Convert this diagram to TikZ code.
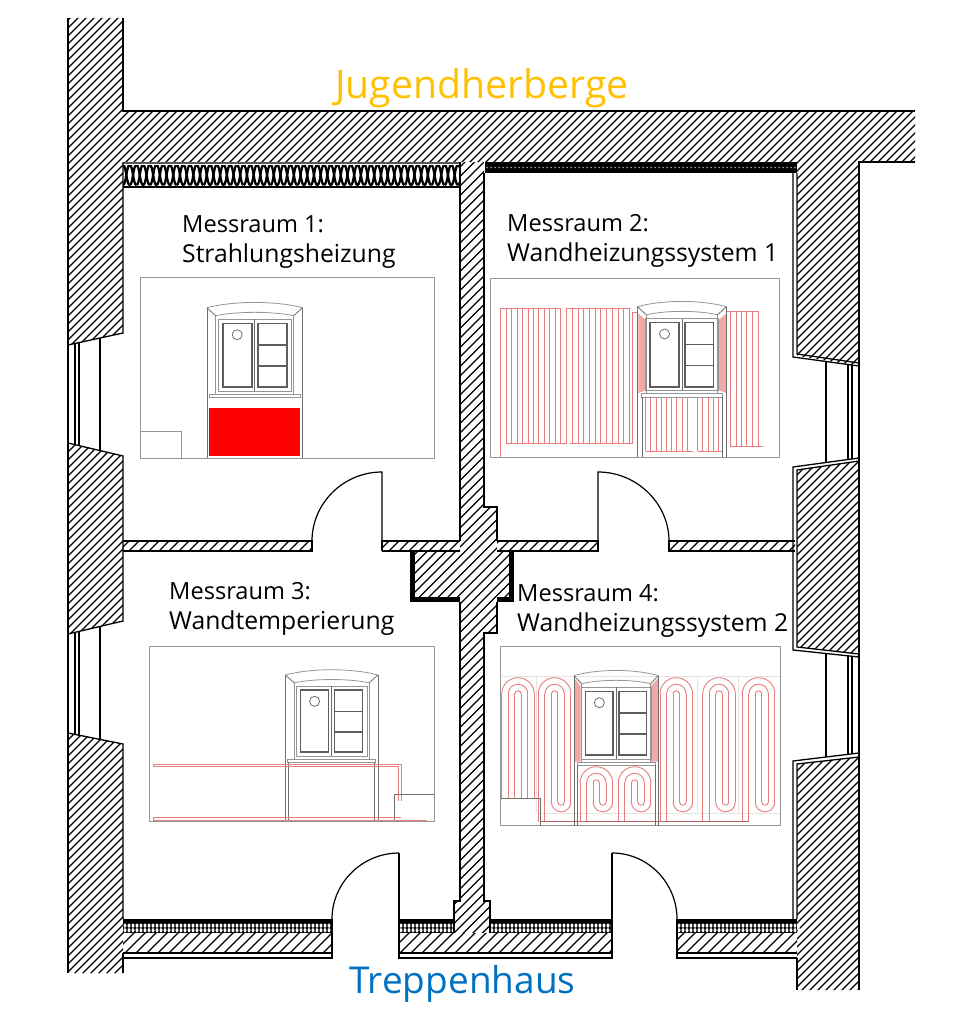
\documentclass[tikz,border=0pt]{standalone}
\usepackage{fontspec}
\setmainfont{Open Sans}
\definecolor{elgray}{HTML}{6E6E6E}
\definecolor{elthick}{HTML}{5E5E5E}
\definecolor{elbox}{HTML}{959595}
\definecolor{pipered}{HTML}{E87C7C}
\definecolor{revealred}{HTML}{F0A8A8}
\definecolor{gridgray}{HTML}{E4E4E4}
\definecolor{jhyellow}{HTML}{FFC000}
\definecolor{thblue}{HTML}{0070C0}
\tikzset{
  hatchline/.style={line width=1.3pt,black},
  wallline/.style={line width=1.3pt,black,line join=miter},
  thickblack/.style={line width=5pt,black,line join=miter},
  doorline/.style={line width=1.2pt,black},
  elline/.style={line width=0.8pt,elgray},
  elthin/.style={line width=0.8pt,elbox},
  elsash/.style={line width=1.7pt,elthick},
  panelbox/.style={line width=1pt,elbox},
  pipe/.style={line width=0.9pt,pipered},
  feedpipe/.style={line width=1.4pt,pipered!80!black},
  gridline/.style={line width=0.6pt,gridgray},
  roomlabel/.style={font=\fontsize{23.6}{30}\selectfont,text=black,inner sep=0pt,anchor=north west,align=left},
  neighbour/.style={inner sep=0pt,anchor=base west},
}
\newcommand{\lineB}[1]{{\fontsize{24.7}{30}\selectfont #1}}
\newcommand{\hatchpoly}[2]{%
  \begin{scope}
    \clip #2;
    \foreach \k in {0,...,260}{
      \pgfmathsetmacro{\cc}{\k*#1}
      \draw[hatchline] (\cc,0) -- (0,\cc);
    }
  \end{scope}}
\newcommand{\capU}[4]{%
  \draw[pipe] ({#1-#2},#3) .. controls ({#1-#2},{#3+#4*0.5523*#2}) and ({#1-0.5523*#2},{#3+#4*#2}) .. (#1,{#3+#4*#2}) .. controls ({#1+0.5523*#2},{#3+#4*#2}) and ({#1+#2},{#3+#4*0.5523*#2}) .. ({#1+#2},#3);}
\newcommand{\meanderTop}[2]{%
  \capU{#1+16.3}{16.3}{#2}{-1}\capU{#1+16.3}{9.8}{#2}{-1}\capU{#1+16.3}{3.25}{#2}{-1}}
\newcommand{\meander}[4]{%
  \meanderTop{#1}{#2}
  \capU{#1+22.8}{3.25}{#3}{1}\capU{#1+22.8}{9.8}{#3}{1}
  \draw[pipe] ({#1},#2) -- ({#1},#4);
  \draw[pipe] ({#1+6.5},#2) -- ({#1+6.5},#4);
  \draw[pipe] ({#1+13},#2) -- ({#1+13},#3);
  \draw[pipe] ({#1+19.55},#2) -- ({#1+19.55},#3);
  \draw[pipe] ({#1+26.1},#2) -- ({#1+26.1},#3);
  \draw[pipe] ({#1+32.6},#2) -- ({#1+32.6},#3);}
% window elevation: c, frame half, inner half, sash width, top, bottom, sill half, inner leg half, y factor
\newcommand{\elwin}[9]{%
  \pgfmathsetmacro{\wf}{3+#4+4.5}
  \draw[elthin] ({#1-#2},#5) .. controls ({#1-#2*0.45},{#5-7}) and ({#1+#2*0.45},{#5-7}) .. ({#1+#2},#5);
  \draw[elthin] ({#1-#3},{#5+8*#9}) .. controls ({#1-#3*0.45},{#5+3.5*#9}) and ({#1+#3*0.45},{#5+3.5*#9}) .. ({#1+#3},{#5+8*#9});
  \draw[elline] ({#1-#2},#5) -- ({#1-#3},{#5+8*#9});
  \draw[elline] ({#1+#2},#5) -- ({#1+#3},{#5+8*#9});
  \draw[elline] ({#1-#2},#5) -- ({#1-#2},#6);
  \draw[elline] ({#1+#2},#5) -- ({#1+#2},#6);
  \draw[elthin] ({#1-#3},{#5+8*#9}) -- ({#1-#3},{#5+86*#9});
  \draw[elthin] ({#1+#3},{#5+8*#9}) -- ({#1+#3},{#5+86*#9});
  \draw[elthin] ({#1-\wf},{#5+11.7*#9}) rectangle ({#1+\wf},{#5+83.3*#9});
  \draw[elline] (#1,{#5+11.7*#9}) -- (#1,{#5+83.3*#9});
  \draw[elsash] ({#1-3-#4},{#5+15.7*#9}) rectangle ({#1-3},{#5+79.3*#9});
  \draw[elsash] ({#1+3},{#5+15.7*#9}) rectangle ({#1+3+#4},{#5+79.3*#9});
  \draw[elsash] ({#1+3},{#5+37.3*#9}) -- ({#1+3+#4},{#5+37.3*#9});
  \draw[elsash] ({#1+3},{#5+58.3*#9}) -- ({#1+3+#4},{#5+58.3*#9});
  \draw[elline] ({#1-3-#4*0.5},{#5+27*#9}) circle[radius=5pt];
  \draw[elthin] ({#1-#7},{#5+86.3*#9}) rectangle ({#1+#7},{#5+89.5*#9});
  \draw[elline] ({#1-#8},{#5+89.5*#9}) -- ({#1-#8},#6);
  \draw[elline] ({#1+#8},{#5+89.5*#9}) -- ({#1+#8},#6);}
% insulation with crossing waves
\newcommand{\insulA}[4]{%
  \begin{scope}
    \clip (#1,#3) rectangle (#2,#4);
    \foreach \i in {0,...,26}{
      \pgfmathsetmacro{\xa}{#1+\i*13.4}
      \pgfmathsetmacro{\xb}{\xa+3.35}
      \pgfmathsetmacro{\xc}{\xa+6.7}
      \pgfmathsetmacro{\xd}{\xa+10.05}
      \pgfmathsetmacro{\xe}{\xa+13.4}
      \draw[line width=2.3pt,black] (\xa,#3) .. controls (\xb,#3) and (\xb,#4) .. (\xc,#4) .. controls (\xd,#4) and (\xd,#3) .. (\xe,#3);
      \draw[line width=2.3pt,black] (\xa,#4) .. controls (\xb,#4) and (\xb,#3) .. (\xc,#3) .. controls (\xd,#3) and (\xd,#4) .. (\xe,#4);
    }
  \end{scope}}
\newcommand{\insulB}[2]{%
  \fill[black] (#1,919) rectangle (#2,933);
  \pgfmathtruncatemacro{\nn}{(#2-#1)/4}
  \foreach \i in {0,...,\nn}{
    \pgfmathsetmacro{\xa}{#1+2+\i*4}
    \fill[white] (\xa,925.6) ellipse[x radius=1.5pt,y radius=2.1pt];
    \fill[white] (\xa,930.2) ellipse[x radius=1.5pt,y radius=2.1pt];
  }}
\begin{document}
\begin{tikzpicture}[x=1pt,y=-1pt]
\useasboundingbox (0,0) rectangle (960,1025);
\fill[white] (0,0) rectangle (960,1025);

% --- hatched masonry
\hatchpoly{8}{(68,18) -- (123,18) -- (123,111) -- (915,111) -- (915,162) -- (859,162) -- (859,366) -- (797,356) -- (797,162) -- (123,162) -- (123,333) -- (68,345) -- cycle}
\hatchpoly{8}{(68,443) -- (123,456) -- (123,621) -- (68,634) -- cycle}
\hatchpoly{8}{(68,733) -- (123,744) -- (123,973) -- (68,973) -- cycle}
\hatchpoly{8}{(797,470) -- (859,461) -- (859,654) -- (797,647) -- cycle}
\hatchpoly{8}{(797,764) -- (859,757) -- (859,990) -- (797,990) -- cycle}
\hatchpoly{9.5}{(460,162) -- (484,162) -- (484,507) -- (497,507) -- (497,551) -- (509,551) -- (509,597) -- (497,597) -- (497,633) -- (484,633) -- (484,901) -- (490,901) -- (490,933) -- (454,933) -- (454,901) -- (460,901) -- (460,597) -- (415,597) -- (415,551) -- (460,551) -- cycle}
\hatchpoly{10}{(123,541) rectangle (312,551)}
\hatchpoly{10}{(382,541) rectangle (460,551)}
\hatchpoly{10}{(497,541) rectangle (598,551)}
\hatchpoly{10}{(669,541) rectangle (795,551)}
\hatchpoly{11}{(123,933) rectangle (332,953)}
\hatchpoly{11}{(399,933) rectangle (612,953)}
\hatchpoly{11}{(677,933) rectangle (797,953)}

% --- insulation
\fill[white] (123,162) rectangle (460,187);
\insulA{123}{460}{165}{185}
\draw[line width=2pt,black!65] (123,162.5) -- (460,162.5);
\draw[line width=2.4pt,black] (123,187) -- (460,187);
\fill[black] (485,162) rectangle (797,173);
\foreach \i in {0,...,77}{
  \pgfmathsetmacro{\xa}{487+\i*4}
  \fill[black!45] (\xa,167.5) circle[radius=1pt];
}
\insulB{123}{332}
\insulB{399}{454}
\insulB{490}{612}
\insulB{677}{797}

% --- wall outlines
\draw[wallline] (68,18) -- (68,973);
\draw[wallline] (123,18) -- (123,111) -- (915,111);
\draw[wallline] (915,162) -- (859,162) -- (859,990);
\draw[wallline] (123,162) -- (123,333) -- (68,345);
\draw[wallline] (68,443) -- (123,456) -- (123,621) -- (68,634);
\draw[wallline] (68,733) -- (123,744) -- (123,919);
\draw[wallline] (123,953) -- (123,973);
\draw[wallline] (793,173) -- (793,357) -- (859,366);
\draw[wallline] (797,173) -- (797,354) -- (859,363);
\draw[wallline] (859,458) -- (793,467) -- (793,650) -- (859,657);
\draw[wallline] (859,461) -- (797,470) -- (797,647) -- (859,654);
\draw[wallline] (859,753) -- (793,761) -- (793,919);
\draw[wallline] (859,757) -- (797,764) -- (797,919);
\draw[wallline] (797,958) -- (797,990);
\draw[wallline] (484,173) -- (484,507) -- (497,507) -- (497,541);
\draw[wallline] (460,162) -- (460,541);
\draw[wallline] (460,602) -- (460,901) -- (454,901) -- (454,933);
\draw[wallline] (497,602) -- (497,633) -- (484,633) -- (484,901) -- (490,901) -- (490,933);
\draw[wallline] (123,541) -- (312,541) -- (312,551) -- (123,551);
\draw[wallline] (382,551) -- (382,541) -- (460,541);
\draw[wallline] (382,551) -- (460,551);
\draw[wallline] (497,541) -- (598,541) -- (598,551) -- (497,551);
\draw[wallline] (795,541) -- (669,541) -- (669,551) -- (795,551);
\draw[thickblack] (412.5,551) -- (412.5,599.5) -- (460,599.5);
\draw[thickblack] (497,599.5) -- (511.5,599.5) -- (511.5,551);
% bottom wall
\draw[wallline] (332,919) -- (332,958) -- (123,958);
\draw[wallline] (123,953) -- (332,953);
\draw[wallline] (399,853) -- (399,958) -- (612,958) -- (612,853);
\draw[wallline] (399,953) -- (612,953);
\draw[wallline] (677,919) -- (677,958) -- (797,958);
\draw[wallline] (677,953) -- (797,953);

% --- windows in plan
\draw[wallline] (75,343) -- (75,445) (79,343) -- (79,446) (100,338) -- (100,450);
\draw[wallline] (75,632) -- (75,735) (79,631) -- (79,736) (100,627) -- (100,739);
\draw[wallline] (826,361) -- (826,462) (848,364.5) -- (848,460) (852,365) -- (852,459);
\draw[wallline] (826,654) -- (826,757) (848,656) -- (848,755) (852,656) -- (852,754);

% --- doors
\draw[doorline] (382,541) -- (382,472) .. controls (343.3,472) and (312,503.3) .. (312,541);
\draw[doorline] (598,541) -- (598,472) .. controls (637.2,472) and (669,503.8) .. (669,541);
\draw[doorline] (399,853) .. controls (362,853) and (332,883) .. (332,919);
\draw[doorline] (612,853) .. controls (648,853) and (677,883) .. (677,919);

% --- panel 1
\draw[panelbox] (140,277) rectangle (434,458);
\draw[elthin] (140,431) -- (181.3,431) -- (181.3,458);
\elwin{254.7}{47.8}{39}{29}{307.7}{457.7}{45.8}{47.8}{1}
\fill[red] (208.7,408) rectangle (300,456);

% --- panel 2
\draw[panelbox] (490.7,278.3) rectangle (779.3,457);
\fill[revealred] (638.3,313.3) -- (645.7,320) -- (645.7,390) -- (638.3,393.3) -- cycle;
\fill[revealred] (726.7,313.3) -- (718.3,320) -- (718.3,390) -- (726.7,393.3) -- cycle;
\draw[pipe] (500.7,456.7) -- (500.7,308.3) -- (560.7,308.3);
\foreach \i in {1,...,11}{
  \pgfmathsetmacro{\xa}{500.7+\i*5.45}
  \draw[pipe] (\xa,308.3) -- (\xa,443.7);
}
\draw[pipe] (506,443.7) -- (566.7,443.7);
\draw[pipe] (566.7,443.7) -- (566.7,308.3) -- (629.3,308.3);
\foreach \i in {1,...,11}{
  \pgfmathsetmacro{\xa}{566.7+\i*5.7}
  \draw[pipe] (\xa,308.3) -- (\xa,443.7);
}
\draw[pipe] (570,443.7) -- (632.7,443.7) -- (632.7,312.3) -- (638.3,312.3);
\foreach \i in {0,...,14}{
  \pgfmathsetmacro{\xa}{645.7+\i*5.2}
  \ifnum\i=9 \else \draw[pipe] (\xa,396.7) -- (\xa,451); \fi
}
\draw[pipe] (645.7,451) -- (693.3,451) (698.3,451) -- (721.7,451);
\draw[pipe] (726.7,311.3) -- (758.3,311.3);
\foreach \xa in {726.7,730,736,741.7,746.7,752.7,758.3}{
  \draw[pipe] (\xa,311.3) -- (\xa,446.3);
}
\draw[pipe] (730,446.3) -- (762.7,446.3);
\elwin{681.9}{44.4}{35.7}{28.7}{306.7}{456.7}{40.5}{40}{1.01}

% --- panel 3
\draw[panelbox] (149.3,646) rectangle (434,821);
\elwin{331.6}{46.3}{37.5}{28}{675}{821}{43.8}{43}{0.975}
\draw[elline] (394.3,821) -- (394.3,794.3) -- (434,794.3);
\draw[pipe] (398.3,800.7) -- (398.3,766.7) -- (153.3,766.7) -- (153.3,764.3) -- (401,764.3) -- (401,800.7);
\draw[pipe] (401,817.7) -- (153.3,817.7) -- (153.3,820) -- (427,820);

% --- panel 4
\draw[gridline] (500.7,676) -- (780,676);
\draw[gridline] (536.7,813.3) -- (780,813.3);
\foreach \xa in {536.7,697.7,738.3}{
  \draw[gridline] (\xa,676) -- (\xa,813.3);
}
\draw[panelbox] (500.7,646) rectangle (780,825.7);
\fill[revealred] (574,678) -- (580.7,686) -- (580.7,761.7) -- (574,761.7) -- cycle;
\fill[revealred] (658.3,678) -- (651,686) -- (651,761.7) -- (658.3,761.7) -- cycle;
\meanderTop{501.7}{694}
\foreach \xa in {501.7,508.2,514.7,521.25,527.8,534.3}{
  \draw[pipe] (\xa,694) -- (\xa,798.7);
}
\meander{538.3}{694}{802}{821.7}
\meander{660}{694}{802}{821.7}
\meander{702.7}{694}{802}{821.7}
\meander{742.3}{694}{802}{821.7}
\meander{580}{783}{802}{821.7}
\meander{618.3}{783}{802}{821.7}
\draw[feedpipe] (540,821.7) -- (749.3,821.7);
\draw[elline] (500.7,798.7) -- (540,798.7) -- (540,825.7);
\elwin{616.1}{42.2}{34.5}{27.5}{675.7}{825.7}{39.2}{39.2}{1}

% --- labels
\node[neighbour,text=jhyellow,font=\fontsize{39.2}{39.2}\selectfont] (jh) at (335,98) {Jugendherberge};
\node[neighbour,text=thblue,font=\fontsize{37}{37}\selectfont] (th) at (349,993) {Treppenhaus};
\node[roomlabel] (r1) at (182,215) {Messraum 1:\\\lineB{Strahlungsheizung}};
\node[roomlabel] (r2) at (507,214) {Messraum 2:\\\lineB{Wandheizungssystem 1}};
\node[roomlabel] (r3) at (169,582.5) {Messraum 3:\\\lineB{Wandtemperierung}};
\node[roomlabel] (r4) at (517,584.5) {Messraum 4:\\\lineB{Wandheizungssystem 2}};
\end{tikzpicture}
\end{document}
